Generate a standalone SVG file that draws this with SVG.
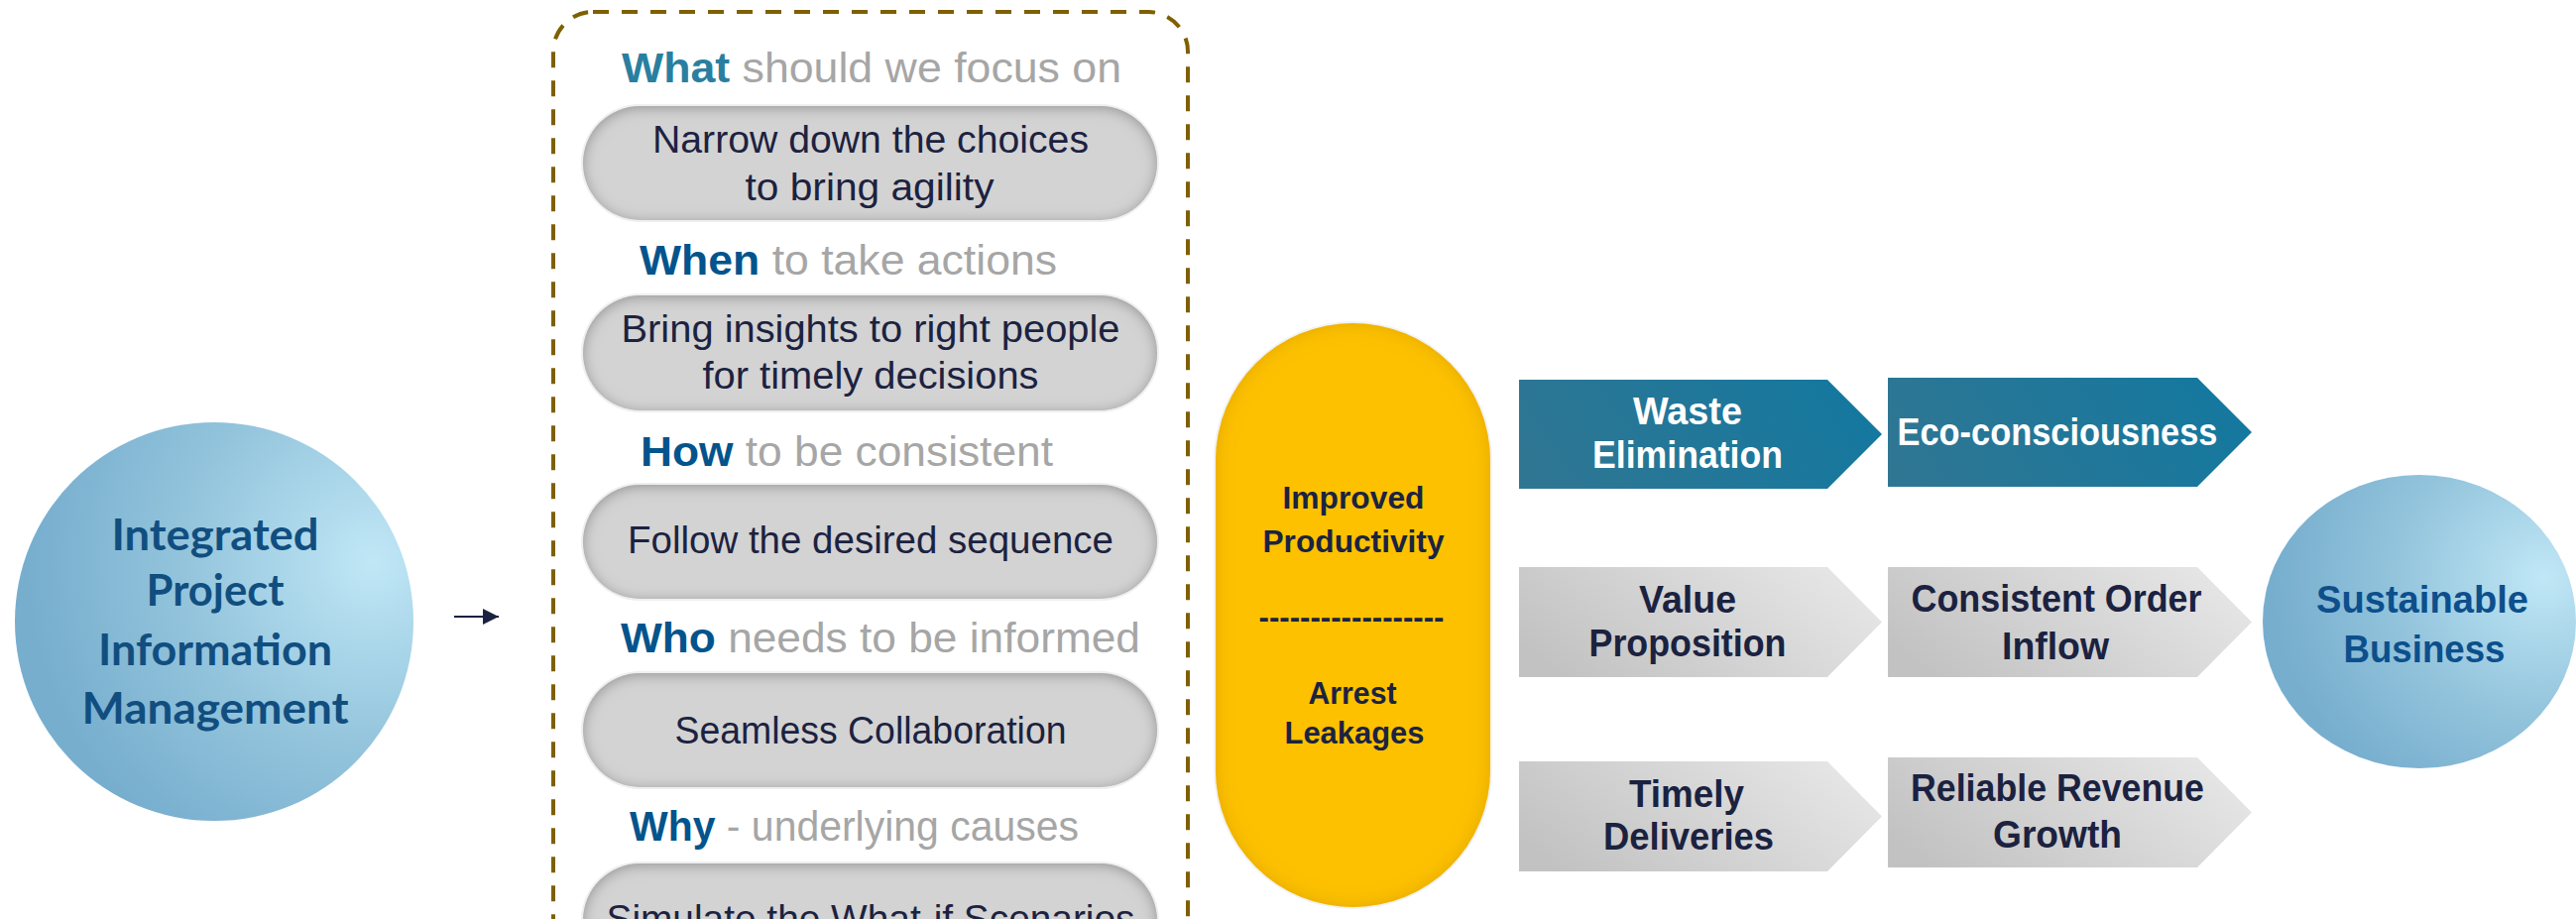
<svg xmlns="http://www.w3.org/2000/svg" width="2598" height="927" viewBox="0 0 2598 927">
<style>
.circ{font-family:"Lato","Open Sans",sans-serif;font-weight:700;font-size:44px;fill:#114E80;text-anchor:middle}
.head{font-family:"Liberation Sans",Arial,sans-serif;font-size:43px;fill:#A6A6A6}
.head .k1{fill:#2A7FA0;font-weight:700}
.head .k2{fill:#03548C;font-weight:700}
.pt{font-family:"Liberation Sans",Arial,sans-serif;font-size:38px;fill:#1C2240;text-anchor:middle}
.yt{font-family:"Liberation Sans",Arial,sans-serif;font-weight:700;font-size:32px;fill:#1B2342;text-anchor:middle}
.ct{font-family:"Liberation Sans",Arial,sans-serif;font-weight:700;font-size:38px;fill:#1B2240;text-anchor:middle}
.wt{fill:#FFFFFF}
.sb{font-family:"Liberation Sans",Arial,sans-serif;font-weight:700;font-size:38px;fill:#0C4F8C;text-anchor:middle}
.halo{fill:#EFEFEF}
.pill{fill:#D3D3D3}
</style>
<defs>
<radialGradient id="gCirc" cx="0.88" cy="0.35" r="0.85" fx="0.9" fy="0.35">
<stop offset="0" stop-color="#C0E7F6"/>
<stop offset="0.55" stop-color="#93C4DC"/>
<stop offset="1" stop-color="#77AECE"/>
</radialGradient>
<linearGradient id="gBlue" x1="0" y1="0.6" x2="1" y2="0.4">
<stop offset="0" stop-color="#2F7693"/>
<stop offset="1" stop-color="#14789F"/>
</linearGradient>
<linearGradient id="gGray" x1="0" y1="0.7" x2="1" y2="0.3">
<stop offset="0" stop-color="#C2C2C2"/>
<stop offset="1" stop-color="#E6E6E6"/>
</linearGradient>
<filter id="innerGray" x="-5%" y="-20%" width="110%" height="140%">
<feFlood flood-color="#8C8C8C" result="f"/>
<feComposite in="f" in2="SourceAlpha" operator="out" result="o"/>
<feGaussianBlur in="o" stdDeviation="7" result="b"/>
<feOffset in="b" dy="2" result="bo"/>
<feComposite in="bo" in2="SourceAlpha" operator="in" result="s"/>
<feMerge><feMergeNode in="SourceGraphic"/><feMergeNode in="s"/></feMerge>
</filter>
<filter id="innerYellow" x="-10%" y="-5%" width="120%" height="110%">
<feFlood flood-color="#E2A600" result="f"/>
<feComposite in="f" in2="SourceAlpha" operator="out" result="o"/>
<feGaussianBlur in="o" stdDeviation="9" result="b"/>
<feComposite in="b" in2="SourceAlpha" operator="in" result="s"/>
<feMerge><feMergeNode in="SourceGraphic"/><feMergeNode in="s"/></feMerge>
</filter>
<marker id="ah" viewBox="0 0 10 10" refX="10" refY="5" markerWidth="17" markerHeight="16" markerUnits="userSpaceOnUse" orient="auto">
<path d="M0,0 L10,5 L0,10 z" fill="#1B2140"/>
</marker>
</defs>
<rect x="0" y="0" width="2598" height="927" fill="#FFFFFF"/>

<g id="node-ipim">
<circle cx="216" cy="627" r="201" fill="url(#gCirc)"/>
<text class="circ" x="217" y="555" textLength="209" lengthAdjust="spacingAndGlyphs">Integrated</text>
<text class="circ" x="217" y="611" textLength="139" lengthAdjust="spacingAndGlyphs">Project</text>
<text class="circ" x="217" y="671" textLength="236" lengthAdjust="spacingAndGlyphs">Information</text>
<text class="circ" x="217" y="730" textLength="269" lengthAdjust="spacingAndGlyphs">Management</text>
</g>

<g id="connectors">
<line x1="458" y1="622" x2="503" y2="622" stroke="#1B2140" stroke-width="2" marker-end="url(#ah)"/>
</g>

<g id="node-questions">
<rect x="558" y="12" width="640" height="1000" rx="40" fill="none" stroke="#7F6000" stroke-width="4" stroke-dasharray="16 13"/>

<text class="head" x="627" y="83" textLength="504" lengthAdjust="spacingAndGlyphs"><tspan class="k1">What</tspan> should we focus on</text>
<rect class="halo" x="586" y="105" width="583" height="119" rx="59.5"/>
<rect class="pill" x="588" y="107" width="579" height="115" rx="57.5" filter="url(#innerGray)"/>
<text class="pt" x="878" y="154" textLength="440" lengthAdjust="spacingAndGlyphs">Narrow down the choices</text>
<text class="pt" x="877" y="202" textLength="251" lengthAdjust="spacingAndGlyphs">to bring agility</text>

<text class="head" x="645" y="277" textLength="421" lengthAdjust="spacingAndGlyphs"><tspan class="k2">When</tspan> to take actions</text>
<rect class="halo" x="586" y="296" width="583" height="120" rx="60"/>
<rect class="pill" x="588" y="298" width="579" height="116" rx="58" filter="url(#innerGray)"/>
<text class="pt" x="878" y="345" textLength="503" lengthAdjust="spacingAndGlyphs">Bring insights to right people</text>
<text class="pt" x="878" y="392" textLength="339" lengthAdjust="spacingAndGlyphs">for timely decisions</text>

<text class="head" x="646" y="470" textLength="416" lengthAdjust="spacingAndGlyphs"><tspan class="k2">How</tspan> to be consistent</text>
<rect class="halo" x="586" y="487" width="583" height="119" rx="59.5"/>
<rect class="pill" x="588" y="489" width="579" height="115" rx="57.5" filter="url(#innerGray)"/>
<text class="pt" x="878" y="558" textLength="490" lengthAdjust="spacingAndGlyphs">Follow the desired sequence</text>

<text class="head" x="626" y="658" textLength="524" lengthAdjust="spacingAndGlyphs"><tspan class="k2">Who</tspan> needs to be informed</text>
<rect class="halo" x="586" y="677" width="583" height="119" rx="59.5"/>
<rect class="pill" x="588" y="679" width="579" height="115" rx="57.5" filter="url(#innerGray)"/>
<text class="pt" x="878" y="750" textLength="395" lengthAdjust="spacingAndGlyphs">Seamless Collaboration</text>

<text class="head" x="635" y="848" textLength="453" lengthAdjust="spacingAndGlyphs"><tspan class="k2">Why</tspan> - underlying causes</text>
<rect class="halo" x="586" y="869" width="583" height="119" rx="59.5"/>
<rect class="pill" x="588" y="871" width="579" height="115" rx="57.5" filter="url(#innerGray)"/>
<text class="pt" x="878" y="940" textLength="533" lengthAdjust="spacingAndGlyphs">Simulate the What-if Scenarios</text>
</g>

<g id="node-productivity">
<rect x="1224" y="324" width="281" height="593" rx="140.5" fill="#F2F2F2"/>
<rect x="1226" y="326" width="277" height="589" rx="138.5" fill="#FDC100" filter="url(#innerYellow)"/>
<text class="yt" x="1365" y="513" textLength="143" lengthAdjust="spacingAndGlyphs">Improved</text>
<text class="yt" x="1365" y="557" textLength="183" lengthAdjust="spacingAndGlyphs">Productivity</text>
<text class="yt" x="1363" y="633" textLength="187" lengthAdjust="spacingAndGlyphs">------------------</text>
<text class="yt" x="1364" y="710" textLength="89" lengthAdjust="spacingAndGlyphs">Arrest</text>
<text class="yt" x="1366" y="750" textLength="141" lengthAdjust="spacingAndGlyphs">Leakages</text>
</g>

<g id="node-waste">
<polygon points="1532,383 1843,383 1898,438 1843,493 1532,493" fill="url(#gBlue)"/>
<text class="ct wt" x="1702" y="428" textLength="110" lengthAdjust="spacingAndGlyphs">Waste</text>
<text class="ct wt" x="1702" y="472" textLength="192" lengthAdjust="spacingAndGlyphs">Elimination</text>
</g>
<g id="node-value">
<polygon points="1532,572 1843,572 1898,627.5 1843,683 1532,683" fill="url(#gGray)"/>
<text class="ct" x="1702" y="618" textLength="98" lengthAdjust="spacingAndGlyphs">Value</text>
<text class="ct" x="1702" y="662" textLength="199" lengthAdjust="spacingAndGlyphs">Proposition</text>
</g>
<g id="node-timely">
<polygon points="1532,768 1843,768 1898,823.5 1843,879 1532,879" fill="url(#gGray)"/>
<text class="ct" x="1701" y="814" textLength="116" lengthAdjust="spacingAndGlyphs">Timely</text>
<text class="ct" x="1703" y="857" textLength="172" lengthAdjust="spacingAndGlyphs">Deliveries</text>
</g>

<g id="node-eco">
<polygon points="1904,381 2216,381 2271,436 2216,491 1904,491" fill="url(#gBlue)"/>
<text class="ct wt" x="2075" y="449" textLength="323" lengthAdjust="spacingAndGlyphs">Eco-consciousness</text>
</g>
<g id="node-order">
<polygon points="1904,572 2216,572 2271,627.5 2216,683 1904,683" fill="url(#gGray)"/>
<text class="ct" x="2074" y="617" textLength="293" lengthAdjust="spacingAndGlyphs">Consistent Order</text>
<text class="ct" x="2073" y="665" textLength="108" lengthAdjust="spacingAndGlyphs">Inflow</text>
</g>
<g id="node-revenue">
<polygon points="1904,764 2216,764 2271,819.5 2216,875 1904,875" fill="url(#gGray)"/>
<text class="ct" x="2075" y="808" textLength="296" lengthAdjust="spacingAndGlyphs">Reliable Revenue</text>
<text class="ct" x="2075" y="855" textLength="130" lengthAdjust="spacingAndGlyphs">Growth</text>
</g>

<g id="node-sustainable">
<ellipse cx="2440" cy="627" rx="158" ry="148" fill="url(#gCirc)"/>
<text class="sb" x="2443" y="618" textLength="214" lengthAdjust="spacingAndGlyphs">Sustainable</text>
<text class="sb" x="2445" y="668" textLength="163" lengthAdjust="spacingAndGlyphs">Business</text>
</g>
</svg>
